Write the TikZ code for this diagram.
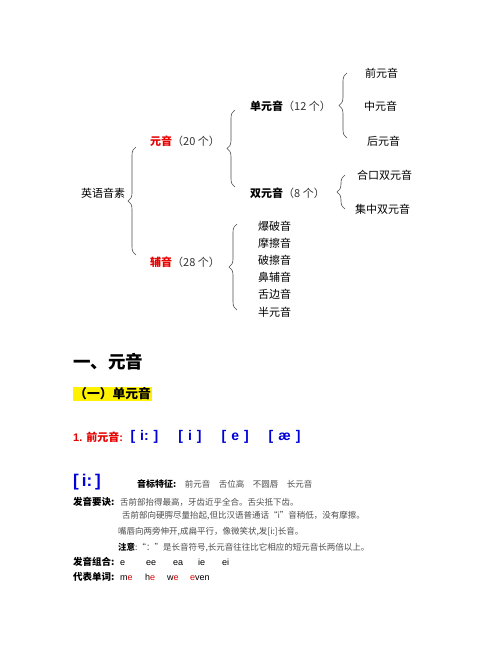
\documentclass[tikz,border=0pt]{standalone}
\usepackage{fontspec}
\setmainfont{Liberation Sans}
\newfontfamily\cjk{Noto Sans CJK SC}
\usetikzlibrary{positioning,decorations.pathreplacing}
\definecolor{hired}{RGB}{230,0,0}
\definecolor{ipablue}{RGB}{0,0,215}
\definecolor{bodygray}{RGB}{75,75,75}

\tikzset{
	leaf/.style={anchor=west,inner sep=0pt,font=\cjk\fontsize{11}{13}\selectfont},
	cons/.style={leaf,minimum height=16.8pt},
	brace/.style={decorate,decoration={brace,amplitude=8pt},draw=black!70,line width=0.6pt},
	line/.style={anchor=west,inner sep=0pt,text=bodygray,font=\cjk\fontsize{8.5}{10}\selectfont},
	key/.style={anchor=west,inner sep=0pt,font=\cjk\bfseries\fontsize{9.5}{11}\selectfont}
}

\begin{document}
\begin{tikzpicture}[x=1pt,y=1pt]
	\useasboundingbox (0,0) rectangle (502,-649);
	% tree of the sounds
	\node[leaf] (root) at (81,-193) {英语音素};
	\node[leaf] (yuan) at (150,-141) {\textcolor{hired}{\bfseries 元音}\textcolor{black!80}{（20 个）}};
	\node[leaf] (fu) at (150,-262) {\textcolor{hired}{\bfseries 辅音}\textcolor{black!80}{（28 个）}};
	\node[leaf] (dan) at (250,-106) {{\bfseries 单元音}\textcolor{black!80}{（12 个）}};
	\node[leaf] (shuang) at (250,-193) {{\bfseries 双元音}\textcolor{black!80}{（8 个）}};
	\node[leaf] (qian) at (365,-73) {前元音};
	\node[leaf] (zhong) at (364,-106) {中元音};
	\node[leaf] (hou) at (367,-141) {后元音};
	\node[leaf] (hekou) at (357,-175) {合口双元音};
	\node[leaf] (jizhong) at (355,-209) {集中双元音};
	\node[cons] (c1) at (258,-226) {爆破音};
	\node[cons] (c2) [below=0pt of c1] {摩擦音};
	\node[cons] (c3) [below=0pt of c2] {破擦音};
	\node[cons] (c4) [below=0pt of c3] {鼻辅音};
	\node[cons] (c5) [below=0pt of c4] {舌边音};
	\node[cons] (c6) [below=0pt of c5] {半元音};
	\draw[brace] ([xshift=-14pt,yshift=7pt]fu.west) -- ([xshift=-14pt,yshift=-6pt]yuan.west);
	\draw[brace] ([xshift=-15pt,yshift=6pt]shuang.west) -- ([xshift=-15pt,yshift=-4pt]dan.west);
	\draw[brace] ([xshift=-20pt,yshift=3pt]hou.west) -- ([xshift=-18pt]qian.west);
	\draw[brace] ([xshift=-10pt]jizhong.west) -- ([xshift=-12pt]hekou.west);
	\draw[brace] ([xshift=-21pt,yshift=2pt]c6.west) -- ([xshift=-21pt,yshift=2pt]c1.west);
	% headings
	\node[anchor=west,inner sep=0pt,font=\cjk\bfseries\fontsize{17.5}{20}\selectfont] (h1) at (73,-362) {一、元音};
	\node[anchor=west,inner sep=1pt,fill=yellow,font=\cjk\bfseries\fontsize{12.8}{14}\selectfont] (h2) at (73,-394) {（一）单元音};
	\node[anchor=west,inner sep=0pt,text=hired,font=\bfseries\fontsize{11}{13}\selectfont] (front) at (73,-437) {1. {\cjk 前元音}:};
	\node[anchor=west,inner sep=0pt,text=ipablue,font=\bfseries\fontsize{14}{16}\selectfont] (ipas) [right=7pt of front]
		{[\hspace{5pt}i:\hspace{5pt}]\hspace{20pt}[\hspace{5pt}i\hspace{5pt}]\hspace{20pt}[\hspace{5pt}e\hspace{5pt}]\hspace{20pt}[\hspace{5pt}æ\hspace{5pt}]};
	% the sound [i:]
	\node[anchor=west,inner sep=0pt,text=ipablue,font=\bfseries\fontsize{17}{19}\selectfont] (ii) at (73,-482) {[\hspace{3pt}i:\hspace{3pt}]};
	\node[anchor=west,inner sep=0pt,font=\cjk\bfseries\fontsize{9}{11}\selectfont] (feat) at (137,-484) {音标特征:};
	\node[line] (featv) [right=8pt of feat] {前元音\quad 舌位高\quad 不圆唇\quad 长元音};
	\node[key] (yaojue) at (73,-502) {发音要诀:};
	\node[line] (l1) at (120,-502) {舌前部抬得最高，牙齿近乎全合。舌尖抵下齿。};
	\node[line] (l2) at (122,-516) {舌前部向硬腭尽量抬起,但比汉语普通话“i”音稍低，没有摩擦。};
	\node[line] (l3) at (118,-532) {嘴唇向两旁伸开,成扁平行，像微笑状,发[i:]长音。};
	\node[line] (l4) at (118,-548) {{\bfseries\color{black}注意}:“：”是长音符号,长元音往往比它相应的短元音长两倍以上。};
	\node[key] (zuhe) at (73,-562) {发音组合:};
	\node[anchor=west,inner sep=0pt,font=\fontsize{9}{11}\selectfont] (zuhev) at (120,-562)
		{\makebox[26pt][l]{e}\makebox[27pt][l]{ee}\makebox[25pt][l]{ea}\makebox[24pt][l]{ie}ei};
	\node[key] (danci) at (73,-577) {代表单词:};
	\node[anchor=west,inner sep=0pt,font=\fontsize{9}{11}\selectfont] (danciv) at (120,-577)
		{\makebox[25pt][l]{m\textcolor{hired}{e}}\makebox[22pt][l]{h\textcolor{hired}{e}}\makebox[23pt][l]{w\textcolor{hired}{e}}\textcolor{hired}{e}ven};
\end{tikzpicture}
\end{document}
